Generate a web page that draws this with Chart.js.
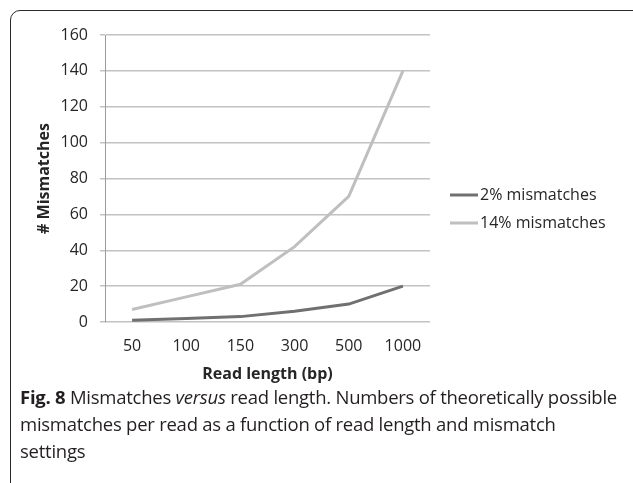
<!DOCTYPE html>
<html>
<head>
<meta charset="utf-8">
<script src="https://cdn.jsdelivr.net/npm/chart.js@4/dist/chart.umd.min.js"></script>
<style>
  html, body { margin: 0; padding: 0; background: #fff; }
  body { width: 633px; height: 483px; position: relative; overflow: hidden; }
  #frame {
    position: absolute; left: 10px; top: 10px; width: 640px; height: 520px;
    border: 1.5px solid #2b2b2b; border-radius: 10px; box-sizing: border-box;
  }
  #wrap { position: absolute; left: 11px; top: 11px; width: 621px; height: 380px; }
  #caption {
    position: absolute; left: 20px; top: 383px; white-space: nowrap;
    font-family: "Open Sans", sans-serif; font-size: 18.5px; line-height: 27px;
    color: #231f20; letter-spacing: -0.25px;
  }
  #caption b { font-weight: 700; }
</style>
</head>
<body>
<div id="frame"></div>
<div id="wrap"><canvas id="line-chart"></canvas></div>
<div id="caption"><b>Fig. 8</b> Mismatches <i>versus</i> read length. Numbers of theoretically possible<br>mismatches per read as a function of read length and mismatch<br>settings</div>
<script>
const readLengths = ['50', '100', '150', '300', '500', '1000']
const mism2 = [1, 2, 3, 6, 10, 20]
const mism14 = [7, 14, 21, 42, 70, 140]

const darkGray = '#707070'
const lightGray = '#bfbfbf'
const txt = '#262626'
const font = 'Open Sans'

// legend drawn by hand to the right of the plot (built-in one gets squeezed)
const sideLegend = {
  id: 'sideLegend',
  afterDraw(chart) {
    const { ctx, chartArea } = chart
    const x0 = chartArea.right + 20
    ctx.save()
    ctx.font = '16px "' + font + '"'
    ctx.textBaseline = 'middle'
    chart.data.datasets.forEach((ds, i) => {
      const y = chartArea.top + 160 + i * 28
      ctx.strokeStyle = ds.borderColor
      ctx.lineWidth = 3
      ctx.beginPath()
      ctx.moveTo(x0, y)
      ctx.lineTo(x0 + 28, y)
      ctx.stroke()
      ctx.fillStyle = txt
      ctx.fillText(ds.label, x0 + 30, y)
    })
    ctx.restore()
  }
}

new Chart(document.getElementById('line-chart'), {
  type: 'line',
  data: {
    labels: readLengths,
    datasets: [{
        data: mism2,
        label: '2% mismatches',
        borderColor: darkGray,
        backgroundColor: darkGray,
        borderWidth: 3,
        pointRadius: 0,
        fill: false,
      },
      {
        data: mism14,
        label: '14% mismatches',
        borderColor: lightGray,
        backgroundColor: lightGray,
        borderWidth: 3,
        pointRadius: 0,
        fill: false,
      }
    ]
  },
  options: {
    responsive: true,
    maintainAspectRatio: false,
    animation: false,
    layout: { padding: { left: 24, top: 24, bottom: 7, right: 202 } },
    plugins: {
      tooltip: { enabled: false },
      legend: { display: false }
    },
    scales: {
      x: {
        offset: true,
        grid: { display: false, drawTicks: false },
        border: { display: false },
        ticks: { color: txt, font: { family: font, size: 16 }, padding: 15, maxRotation: 0 },
        title: {
          display: true,
          text: 'Read length (bp)',
          color: txt,
          font: { family: font, size: 16, weight: 'bold' },
          padding: { top: 0, bottom: 0 }
        },
        afterFit(scale) { scale.height = 62 }
      },
      y: {
        min: 0,
        max: 160,
        ticks: { stepSize: 20, color: txt, font: { family: font, size: 16 }, padding: 12 },
        grid: { color: '#c2c2c2', lineWidth: 1.5, tickLength: 5 },
        border: { display: true, color: '#9a9a9a', width: 1 },
        title: {
          display: true,
          text: '# Mismatches',
          color: txt,
          font: { family: font, size: 16, weight: 'bold' },
          padding: { top: 0, bottom: 0 }
        },
        afterFit(scale) { scale.width = 70 }
      }
    }
  },
  plugins: [sideLegend]
})
</script>
</body>
</html>
